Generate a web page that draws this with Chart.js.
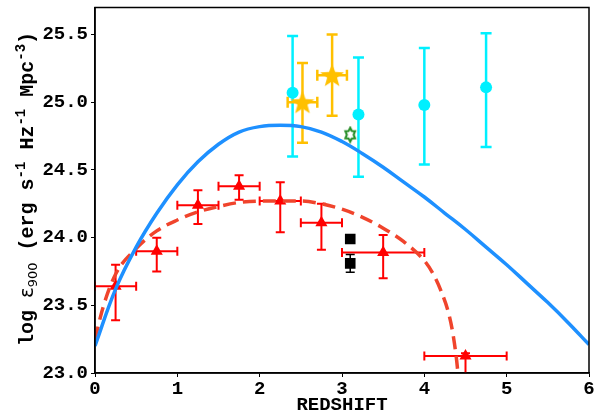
<!DOCTYPE html>
<html>
<head>
<meta charset="utf-8">
<script src="https://cdn.jsdelivr.net/npm/chart.js@4.4.1/dist/chart.umd.min.js"></script>
<style>
  html, body { margin: 0; padding: 0; background: #fff; }
</style>
</head>
<body>
<canvas id="chart" width="600" height="415"></canvas>
<script>
// tick values
const zTicks = [0, 1, 2, 3, 4, 5, 6];
const logTicks = [23.0, 23.5, 24.0, 24.5, 25.0, 25.5];

// solid blue model curve
const blueZ = [0, 0.25, 0.5, 0.75, 1.0, 1.25, 1.5, 1.75, 2.0, 2.25, 2.5, 2.75, 3.0, 3.25, 3.5, 3.75, 4.0, 4.25, 4.5, 4.75, 5.0, 5.25, 5.5, 5.75, 6.0];
const blueLog = [23.20, 23.62, 23.93, 24.18, 24.39, 24.56, 24.69, 24.78, 24.82, 24.83, 24.82, 24.78, 24.71, 24.62, 24.52, 24.41, 24.30, 24.18, 24.06, 23.93, 23.80, 23.66, 23.52, 23.37, 23.21];

// dashed red fit
const dashZ = [0, 0.1, 0.25, 0.5, 0.75, 1.0, 1.25, 1.5, 1.75, 2.0, 2.25, 2.5, 2.75, 3.0, 3.25, 3.5, 3.75, 4.0, 4.1, 4.2, 4.3, 4.35, 4.4, 4.42];
const dashLog = [23.25, 23.49, 23.73, 23.92, 24.05, 24.13, 24.19, 24.23, 24.26, 24.27, 24.27, 24.27, 24.25, 24.21, 24.15, 24.07, 23.97, 23.83, 23.74, 23.61, 23.43, 23.28, 23.05, 22.9];

// red triangles
const triZ = [0.25, 0.75, 1.25, 1.75, 2.25, 2.75, 3.5, 4.5];
const triLog = [23.64, 23.90, 24.24, 24.38, 24.27, 24.11, 23.89, 23.125];
const triZErr = [0.25, 0.25, 0.25, 0.25, 0.25, 0.25, 0.5, 0.5];
const triUp = [0.16, 0.10, 0.11, 0.08, 0.14, 0.14, 0.13, 0.02];
const triDown = [0.25, 0.15, 0.14, 0.10, 0.23, 0.20, 0.19, 0.15];

// cyan circles
const cirZ = [2.4, 3.2, 4.0, 4.75];
const cirLog = [25.07, 24.91, 24.98, 25.11];
const cirUp = [0.42, 0.42, 0.42, 0.40];
const cirDown = [0.47, 0.46, 0.44, 0.44];

// gold stars
const starZ = [2.52, 2.88];
const starLog = [25.00, 25.20];
const starZErr = [0.18, 0.18];
const starUp = [0.29, 0.30];
const starDown = [0.30, 0.30];

// green hexagram
const hexZ = [3.1];
const hexLog = [24.76];

// black squares
const sqZ = [3.1, 3.1];
const sqLog = [23.99, 23.81];
const sqErr = [0.03, 0.065];

const MONO = '"Liberation Mono", "Courier New", monospace';

function pts(xs, ys) {
    return xs.map((x, i) => ({ x: x, y: ys[i] }));
}

// filled five point star marker
const starImg = document.createElement('canvas');
starImg.width = 28; starImg.height = 28;
(function () {
    const c = starImg.getContext('2d');
    c.beginPath();
    for (let i = 0; i < 10; i++) {
        const r = i % 2 === 0 ? 12.5 : 5.2;
        const a = -Math.PI / 2 + i * Math.PI / 5;
        const px = 14 + r * Math.cos(a), py = 15 + r * Math.sin(a);
        if (i === 0) c.moveTo(px, py); else c.lineTo(px, py);
    }
    c.closePath();
    c.fillStyle = '#ffc000';
    c.fill();
})();

// hollow star of david marker
const hexImg = document.createElement('canvas');
hexImg.width = 18; hexImg.height = 18;
(function () {
    const c = hexImg.getContext('2d');
    c.beginPath();
    for (let i = 0; i < 12; i++) {
        const r = i % 2 === 0 ? 7 : 4.2;
        const a = -Math.PI / 2 + i * Math.PI / 6;
        const px = 9 + r * Math.cos(a) * 0.8, py = 9 + r * Math.sin(a);
        if (i === 0) c.moveTo(px, py); else c.lineTo(px, py);
    }
    c.closePath();
    c.strokeStyle = '#228b22';
    c.lineWidth = 2;
    c.stroke();
})();

// error bar groups
const errGroups = [
    { z: triZ, y: triLog, zErr: triZErr, up: triUp, down: triDown, color: '#ff0000', lw: 2, cap: 4.5 },
    { z: cirZ, y: cirLog, zErr: null, up: cirUp, down: cirDown, color: '#00f0ff', lw: 2.5, cap: 5.5 },
    { z: starZ, y: starLog, zErr: starZErr, up: starUp, down: starDown, color: '#ffc000', lw: 2.5, cap: 5.5 },
    { z: sqZ, y: sqLog, zErr: null, up: sqErr, down: sqErr, color: '#000000', lw: 1.5, cap: 4.5 }
];

const errorBars = {
    id: 'errorBars',
    beforeDatasetsDraw(chart) {
        const { ctx, chartArea: a, scales: { x, y } } = chart;
        ctx.save();
        ctx.beginPath();
        ctx.rect(a.left, a.top, a.right - a.left, a.bottom - a.top);
        ctx.clip();
        errGroups.forEach(g => {
            ctx.strokeStyle = g.color;
            ctx.lineWidth = g.lw;
            g.z.forEach((z, i) => {
                const px = x.getPixelForValue(z);
                const py = y.getPixelForValue(g.y[i]);
                const top = y.getPixelForValue(g.y[i] + g.up[i]);
                const bot = y.getPixelForValue(g.y[i] - g.down[i]);
                ctx.beginPath();
                ctx.moveTo(px, top); ctx.lineTo(px, bot);
                ctx.moveTo(px - g.cap, top); ctx.lineTo(px + g.cap, top);
                ctx.moveTo(px - g.cap, bot); ctx.lineTo(px + g.cap, bot);
                if (g.zErr) {
                    const l = x.getPixelForValue(z - g.zErr[i]);
                    const r = x.getPixelForValue(z + g.zErr[i]);
                    ctx.moveTo(l, py); ctx.lineTo(r, py);
                    ctx.moveTo(l, py - g.cap); ctx.lineTo(l, py + g.cap);
                    ctx.moveTo(r, py - g.cap); ctx.lineTo(r, py + g.cap);
                }
                ctx.stroke();
            });
        });
        ctx.restore();
    }
};

// frame and y axis title with sub/superscripts
const frame = {
    id: 'frame',
    beforeDraw(chart) {
        const ctx = chart.ctx;
        ctx.save();
        ctx.fillStyle = '#fff';
        ctx.fillRect(0, 0, chart.width, chart.height);
        ctx.restore();
    },
    afterDraw(chart) {
        const { ctx, chartArea: a } = chart;
        ctx.save();
        ctx.strokeStyle = '#000';
        ctx.lineWidth = 1.5;
        ctx.strokeRect(a.left, a.top, a.right - a.left, a.bottom - a.top);

        const big = 'bold 20px ' + MONO;
        const small = 'bold 14px ' + MONO;
        const parts = [
            { t: 'log ', f: big, dy: 0 },
            { t: 'ε', f: '20px "DejaVu Sans"', dy: 0 },
            { t: '900', f: '13px "DejaVu Sans"', dy: 4 },
            { t: ' (erg s', f: big, dy: 0 },
            { t: '-1', f: small, dy: -8 },
            { t: ' Hz', f: big, dy: 0 },
            { t: '-1', f: small, dy: -8 },
            { t: ' Mpc', f: big, dy: 0 },
            { t: '-3', f: small, dy: -8 },
            { t: ')', f: big, dy: 0 }
        ];
        let total = 0;
        parts.forEach(p => { ctx.font = p.f; p.w = ctx.measureText(p.t).width; total += p.w; });
        ctx.translate(33, 189);
        ctx.rotate(-Math.PI / 2);
        ctx.fillStyle = '#000';
        ctx.textBaseline = 'alphabetic';
        let cx = -total / 2;
        parts.forEach(p => {
            ctx.font = p.f;
            ctx.fillText(p.t, cx, p.dy);
            cx += p.w;
        });
        ctx.restore();
    }
};

new Chart(document.getElementById('chart'), {
    type: 'scatter',
    data: {
        datasets: [
            {
                data: pts(blueZ, blueLog),
                showLine: true,
                borderColor: '#1e90ff',
                borderWidth: 3.5,
                pointRadius: 0,
                tension: 0.4
            },
            {
                data: pts(dashZ, dashLog),
                showLine: true,
                borderColor: '#f0442c',
                borderWidth: 3.5,
                borderDash: [13, 7],
                pointRadius: 0,
                cubicInterpolationMode: 'monotone'
            },
            {
                data: pts(triZ, triLog),
                pointStyle: 'triangle',
                pointRadius: 7,
                backgroundColor: '#ff0000',
                borderColor: '#ff0000',
                borderWidth: 0
            },
            {
                data: pts(cirZ, cirLog),
                pointStyle: 'circle',
                pointRadius: 6,
                backgroundColor: '#00f0ff',
                borderWidth: 0
            },
            {
                data: pts(starZ, starLog),
                pointStyle: starImg
            },
            {
                data: pts(hexZ, hexLog),
                pointStyle: hexImg
            },
            {
                data: pts(sqZ, sqLog),
                pointStyle: 'rect',
                pointRadius: 7.5,
                backgroundColor: '#000',
                borderWidth: 0
            }
        ]
    },
    options: {
        responsive: false,
        animation: false,
        layout: { padding: { top: 5, right: 11, left: 0, bottom: 0 } },
        plugins: {
            legend: { display: false },
            tooltip: { enabled: false }
        },
        scales: {
            x: {
                type: 'linear',
                min: 0,
                max: 6,
                afterBuildTicks: s => { s.ticks = zTicks.map(v => ({ value: v })); },
                afterFit: s => { s.height = 42; s.paddingLeft = 0; s.paddingRight = 0; },
                grid: { drawOnChartArea: false, tickLength: 4, color: '#000' },
                border: { color: '#000', width: 1.5 },
                ticks: {
                    padding: 1,
                    color: '#000',
                    maxRotation: 0,
                    font: { family: MONO, size: 19, weight: 'bold' },
                    callback: v => String(v)
                },
                title: {
                    display: true,
                    text: 'REDSHIFT',
                    color: '#000',
                    padding: 0,
                    font: { family: MONO, size: 19, weight: 'bold', lineHeight: 1 }
                }
            },
            y: {
                type: 'linear',
                min: 23.0,
                max: 25.7,
                afterBuildTicks: s => { s.ticks = logTicks.map(v => ({ value: v })); },
                afterFit: s => { s.width = 95; s.paddingTop = 0; s.paddingBottom = 0; },
                grid: { drawOnChartArea: false, tickLength: 4, color: '#000' },
                border: { color: '#000', width: 1.5 },
                ticks: {
                    padding: 3,
                    color: '#000',
                    font: { family: MONO, size: 19, weight: 'bold' },
                    callback: v => v.toFixed(1)
                }
            }
        }
    },
    plugins: [errorBars, frame]
});
</script>
</body>
</html>
